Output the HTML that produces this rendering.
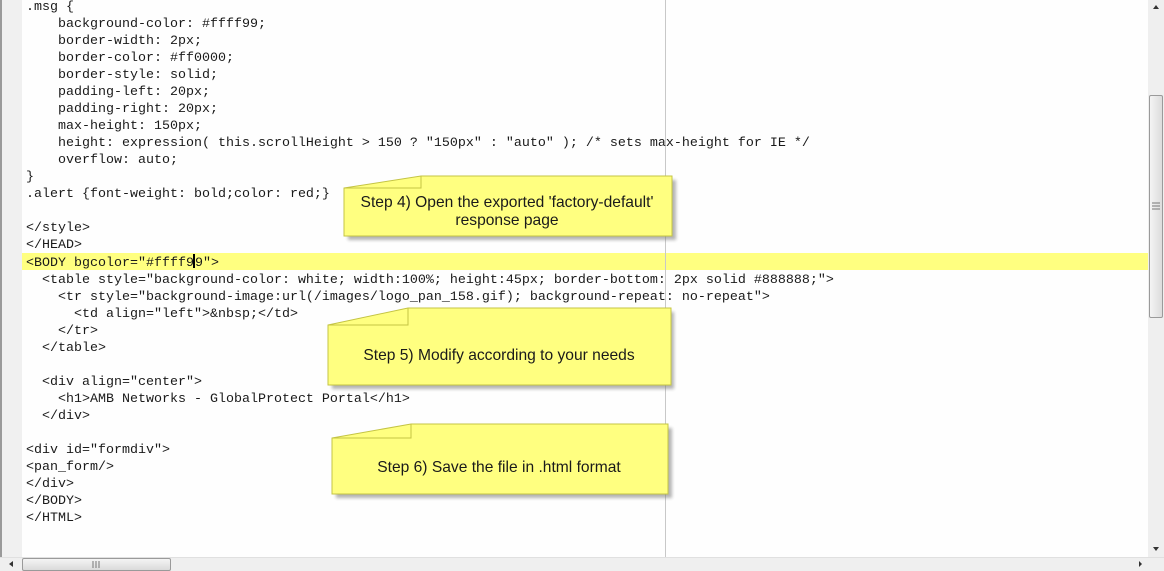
<!DOCTYPE html>
<html><head><style>
html,body{margin:0;padding:0;width:1164px;height:571px;overflow:hidden;background:#fefefe;position:relative}
.gut{position:absolute;left:0;top:0;width:22px;height:557px;background:#f0f0f0;border-left:2px solid #9a9a9a;box-sizing:border-box}
.hl{position:absolute;left:22px;top:253px;width:1126px;height:17px;background:#ffff80}
.vl{position:absolute;left:665px;top:0;width:1px;height:557px;background:#c8c8c8}
pre{position:absolute;left:26px;top:-1px;margin:0;font-family:"Liberation Mono",monospace;font-size:13.33px;line-height:17px;color:#1a1a1a}
.cur{display:inline-block;width:2px;height:14px;background:#000;vertical-align:-2px;margin-left:-1px}
.vs{position:absolute;left:1148px;top:0;width:16px;height:557px;background:#efefef}
.vth{position:absolute;left:1149px;top:95px;width:14px;height:223px;background:linear-gradient(90deg,#f4f4f4,#dcdcdc);border:1px solid #9a9a9a;border-radius:2px;box-sizing:border-box}
.hs{position:absolute;left:0;top:557px;width:1164px;height:14px;background:#efefef;border-top:1px solid #e0e0e0}
.hth{position:absolute;left:22px;top:558px;width:149px;height:13px;background:linear-gradient(#f4f4f4,#dadada);border:1px solid #9a9a9a;border-radius:2px;box-sizing:border-box}
svg{position:absolute;left:0;top:0}
</style></head><body>
<div class="gut"></div>
<div class="hl"></div>
<div class="vl"></div>
<pre>.msg {
    background-color: #ffff99;
    border-width: 2px;
    border-color: #ff0000;
    border-style: solid;
    padding-left: 20px;
    padding-right: 20px;
    max-height: 150px;
    height: expression( this.scrollHeight &gt; 150 ? "150px" : "auto" ); /* sets max-height for IE */
    overflow: auto;
}
.alert {font-weight: bold;color: red;}

&lt;/style&gt;
&lt;/HEAD&gt;
&lt;BODY bgcolor="#ffff9<span class="cur"></span>9"&gt;
  &lt;table style="background-color: white; width:100%; height:45px; border-bottom: 2px solid #888888;"&gt;
    &lt;tr style="background-image:url(/images/logo_pan_158.gif); background-repeat: no-repeat"&gt;
      &lt;td align="left"&gt;&amp;nbsp;&lt;/td&gt;
    &lt;/tr&gt;
  &lt;/table&gt;

  &lt;div align="center"&gt;
    &lt;h1&gt;AMB Networks - GlobalProtect Portal&lt;/h1&gt;
  &lt;/div&gt;

&lt;div id="formdiv"&gt;
&lt;pan_form/&gt;
&lt;/div&gt;
&lt;/BODY&gt;
&lt;/HTML&gt;</pre>
<div class="vs"></div><div class="vth"></div>
<div class="hs"></div><div class="hth"></div>
<svg width="1164" height="571" font-family="Liberation Sans, sans-serif" font-size="15.6" fill="#1a1a1a">
<defs><filter id="sh" x="-5%" y="-10%" width="115%" height="130%"><feGaussianBlur stdDeviation="1.5"/></filter></defs>
<g>
<polygon points="348,192 425,180 676,180 676,240 348,240" fill="#777" opacity="0.55" filter="url(#sh)"/>
<polygon points="344,188 421,176 672,176 672,236 344,236" fill="#ffff80" stroke="#c4c444"/>
<polyline points="421,176 421,188 344,188" fill="none" stroke="#c4c444"/>
<text x="507" y="207" text-anchor="middle" fill="#1a1a1a">Step 4) Open the exported 'factory-default'</text>
<text x="507" y="225" text-anchor="middle" fill="#1a1a1a">response page</text>
</g>
<g>
<polygon points="332,329 412,312 674,312 674,389 332,389" fill="#777" opacity="0.55" filter="url(#sh)"/>
<polygon points="328,325 408,308 671,308 671,385 328,385" fill="#ffff80" stroke="#c4c444"/>
<polyline points="408,308 408,325 328,325" fill="none" stroke="#c4c444"/>
<text x="499" y="360" text-anchor="middle" fill="#1a1a1a">Step 5) Modify according to your needs</text>
</g>
<g>
<polygon points="336,442 415,428 672,428 672,498 336,498" fill="#777" opacity="0.55" filter="url(#sh)"/>
<polygon points="332,438 411,424 668,424 668,494 332,494" fill="#ffff80" stroke="#c4c444"/>
<polyline points="411,424 411,438 332,438" fill="none" stroke="#c4c444"/>
<text x="499" y="472" text-anchor="middle" fill="#1a1a1a">Step 6) Save the file in .html format</text>
</g>
<polygon points="1153,9 1156,5 1159,9" fill="#333"/>
<polygon points="1153,547 1156,551 1159,547" fill="#333"/>
<polygon points="9,564 13,561 13,567" fill="#333"/>
<polygon points="1139,561 1142,564 1139,567" fill="#333"/>
<g stroke="#777"><line x1="1152" y1="203" x2="1160" y2="203"/><line x1="1152" y1="206" x2="1160" y2="206"/><line x1="1152" y1="209" x2="1160" y2="209"/>
<line x1="93" y1="561" x2="93" y2="568"/><line x1="96" y1="561" x2="96" y2="568"/><line x1="99" y1="561" x2="99" y2="568"/></g>
</svg>
</body></html>
